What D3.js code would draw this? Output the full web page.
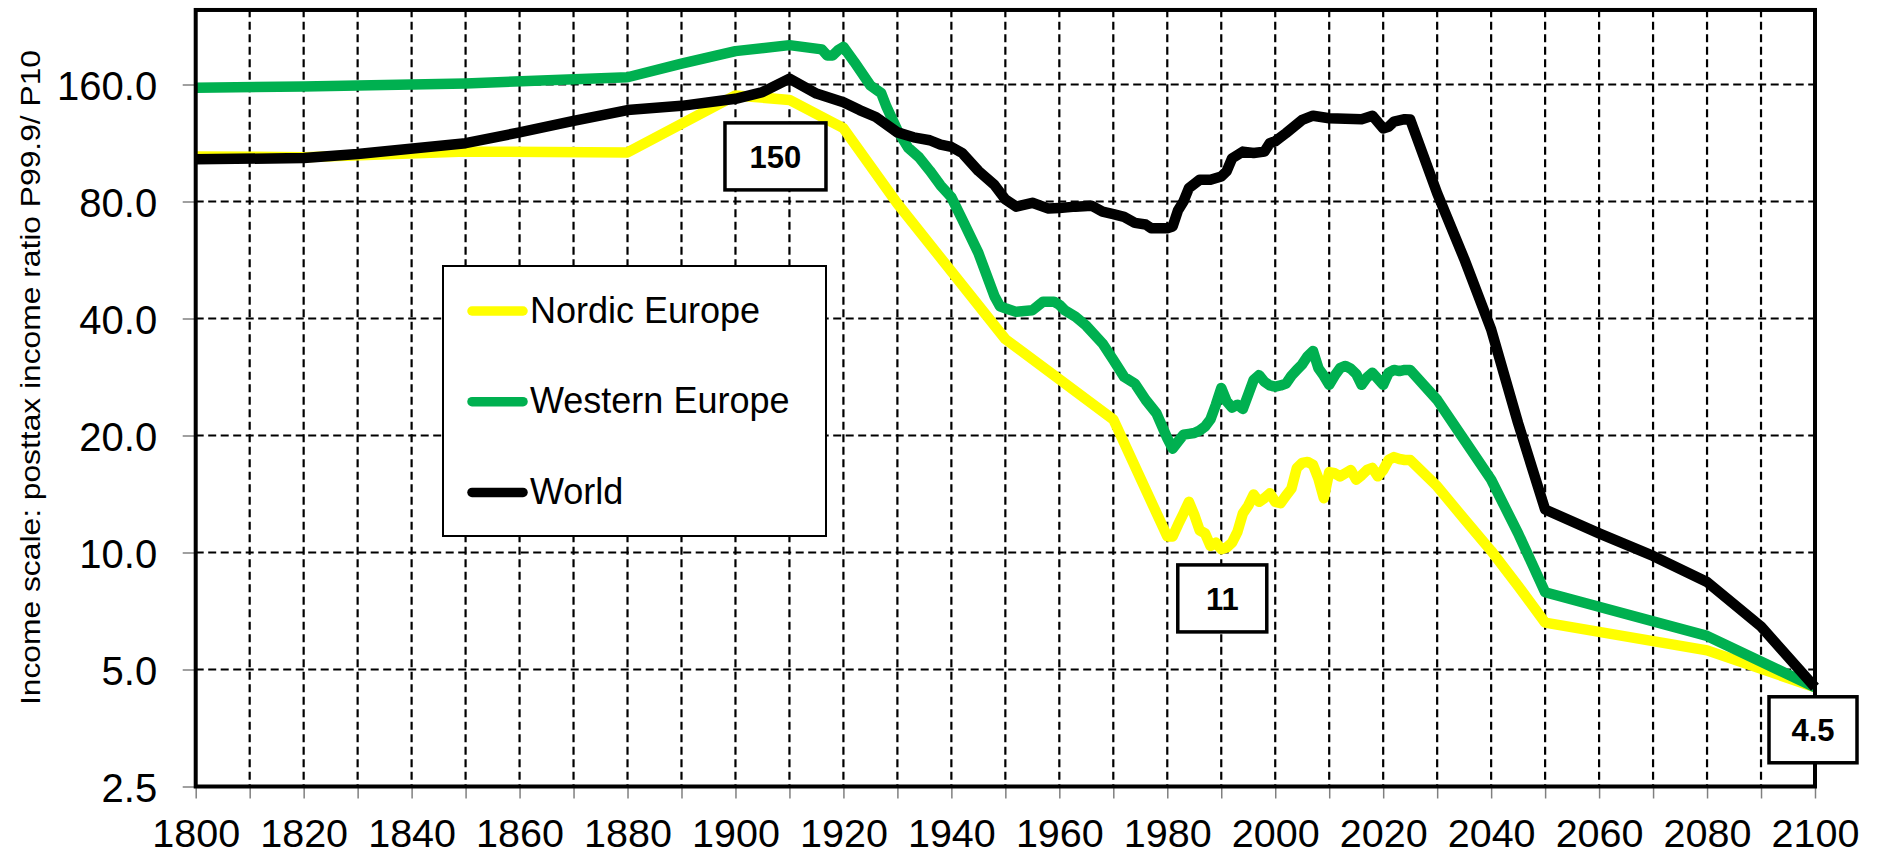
<!DOCTYPE html>
<html>
<head>
<meta charset="utf-8">
<script src="https://cdn.jsdelivr.net/npm/d3@7"></script>
<style>
  html, body { margin: 0; padding: 0; background: #fff; }
  svg { display: block; font-family: "Liberation Sans", Arial, sans-serif; }
</style>
</head>
<body>
<svg id="chart" width="1878" height="856"></svg>
<script>
// ---- data -------------------------------------------------------------
const yearTicks = d3.range(1800, 2101, 20);
const gridYears = d3.range(1800, 2101, 10);
const valueTicks = [2.5, 5, 10, 20, 40, 80, 160];

const seriesNames = ["Nordic Europe", "Western Europe", "World"];
const seriesColors = ["#FFFF00", "#00B050", "#000000"];

// P99.9/P10 ratio, Nordic Europe
const nordicYears = [1800, 1820, 1850, 1880, 1900, 1910, 1920, 1930, 1950, 1960, 1970, 1980,
  1981, 1982, 1983, 1984, 1985, 1986, 1987, 1988, 1989, 1990, 1991, 1992, 1993, 1994, 1995,
  1996, 1997, 1998, 1999, 2000, 2001, 2002, 2003, 2004, 2005, 2006, 2007, 2008, 2009, 2010,
  2011, 2012, 2013, 2014, 2015, 2016, 2017, 2018, 2019, 2020, 2021, 2022, 2023, 2024, 2025,
  2030, 2035, 2040, 2045, 2050, 2080, 2100];
const nordicValues = [104.5, 104, 107.5, 107, 150, 146, 123.5, 79, 35.4, 27.9, 22, 11,
  11, 11.8, 12.6, 13.5, 12.5, 11.4, 11.2, 10.4, 10.6, 10.2, 10.3, 10.6, 11.3, 12.6, 13.2,
  14.1, 13.5, 13.8, 14.2, 13.5, 13.4, 14.0, 14.6, 16.5, 17.0, 17.1, 16.8, 15.5, 13.8, 16.1,
  16.0, 15.7, 16.0, 16.3, 15.4, 15.8, 16.3, 16.5, 15.7, 16.3, 17.3, 17.6, 17.4, 17.3, 17.3,
  14.8, 12.2, 10.1, 8.2, 6.6, 5.6, 4.5];

// P99.9/P10 ratio, Western Europe
const westernYears = [1800, 1820, 1850, 1880, 1890, 1900, 1910, 1916, 1917, 1918, 1919, 1920,
  1922, 1925, 1927, 1928, 1930, 1932, 1934, 1936, 1938, 1940, 1942, 1945, 1948, 1949, 1950,
  1952, 1955, 1957, 1959, 1960, 1961, 1963, 1965, 1968, 1970, 1972, 1974, 1976, 1978, 1980,
  1981, 1982, 1983, 1984, 1985, 1986, 1987, 1988, 1989, 1990, 1991, 1992, 1993, 1994, 1995,
  1996, 1997, 1998, 1999, 2000, 2001, 2002, 2003, 2004, 2005, 2006, 2007, 2008, 2009, 2010,
  2011, 2012, 2013, 2014, 2015, 2016, 2017, 2018, 2019, 2020, 2021, 2022, 2023, 2024, 2025,
  2030, 2035, 2040, 2045, 2050, 2080, 2100];
const westernValues = [157, 158, 161, 167, 181, 195, 202, 197, 190, 190, 196, 200,
  183, 159, 152, 140, 122, 110, 104, 96, 88, 82, 72, 59, 45.6, 43, 42.5,
  41.6, 42, 44.2, 44.2, 43.4, 42, 40.4, 38.3, 34.5, 31.3, 28.3, 27.2, 24.7, 22.8, 19.7,
  18.5, 19.3, 20.1, 20.2, 20.3, 20.6, 21.1, 22, 24, 26.5, 24.5, 23.6, 24, 23.4, 25.5,
  27.8, 28.6, 27.5, 26.9, 26.7, 26.9, 27.2, 28.5, 29.5, 30.5, 32, 33, 29.8, 28.5, 27,
  28.5, 29.8, 30.2, 29.7, 28.8, 27, 28.2, 29, 28, 27, 29, 29.5, 29.3, 29.5, 29.5,
  24.7, 19.5, 15.4, 11.2, 7.9, 6.1, 4.5];

// P99.9/P10 ratio, World
const worldYears = [1800, 1820, 1830, 1850, 1860, 1870, 1880, 1890, 1900, 1905, 1910, 1915,
  1918, 1920, 1923, 1926, 1930, 1933, 1936, 1938, 1940, 1942, 1945, 1948, 1950, 1952, 1955,
  1958, 1960, 1963, 1966, 1968, 1970, 1972, 1974, 1976, 1977, 1980, 1981, 1982, 1983, 1984,
  1986, 1988, 1990, 1991, 1992, 1994, 1996, 1998, 1999, 2000, 2002, 2005, 2007, 2010, 2013,
  2016, 2018, 2020, 2021, 2022, 2024, 2025, 2030, 2035, 2040, 2045, 2050, 2060, 2070, 2080,
  2090, 2100];
const worldValues = [102.7, 103.5, 106, 113, 120.5, 129, 137.5, 141, 147, 153, 165.7, 151.6,
  147, 144, 137.5, 132, 120.5, 117, 115, 112, 110.5, 106.6, 95.9, 88.2, 81, 77.6, 79.4,
  76.7, 77, 77.6, 78, 75.3, 74.2, 73, 70.5, 69.8, 68.3, 68.3, 69, 76, 80, 86.6,
  91, 91, 92.8, 95.7, 103.3, 107.5, 106.6, 107.5, 113, 114.3, 120, 129.7, 133, 131, 130.6,
  130.3, 133, 123.3, 124.5, 128.4, 130.3, 130, 84, 57, 37.5, 21.5, 12.9, 11.2, 9.8, 8.4,
  6.45, 4.5];

const yTitle = "Income scale: posttax income ratio P99.9/ P10";

// ---- layout -----------------------------------------------------------
const svg = d3.select("#chart");
const plot = { left: 195.7, right: 1815, bottom: 786.5, octave: 117 };
const x = d3.scaleLinear().domain([1800, 2100]).range([plot.left, plot.right]);
const y = d3.scaleLog().base(2).domain([2.5, 250])
  .range([plot.bottom, plot.bottom - plot.octave * Math.log2(250 / 2.5)]);
const plotTop = y(250);

// dashed grid
const grid = svg.append("g");
grid.selectAll("line.vg").data(gridYears.filter(d => d > 1800 && d < 2100)).join("line")
  .attr("x1", d => x(d)).attr("x2", d => x(d))
  .attr("y1", plotTop).attr("y2", plot.bottom)
  .attr("stroke", "#000").attr("stroke-width", 2.2).attr("stroke-dasharray", "8,4.5");
grid.selectAll("line.hg").data(valueTicks.filter(d => d > 2.5)).join("line")
  .attr("x1", plot.left).attr("x2", plot.right)
  .attr("y1", d => y(d)).attr("y2", d => y(d))
  .attr("stroke", "#000").attr("stroke-width", 2.2).attr("stroke-dasharray", "8,4.5");

// axes (tick marks + labels)
const xAxis = d3.axisBottom(x).tickValues(gridYears).tickSize(12)
  .tickFormat(d => (yearTicks.includes(d) ? d3.format("d")(d) : ""));
const gx = svg.append("g").attr("transform", `translate(0,${plot.bottom})`).call(xAxis);
gx.select(".domain").remove();
gx.selectAll(".tick line").attr("stroke", "#808080").attr("stroke-width", 1.5);
gx.selectAll(".tick text").attr("font-size", 39.5).attr("fill", "#000")
  .attr("font-family", "'Liberation Sans', Arial, sans-serif")
  .attr("dy", null).attr("y", 60.5);

const yAxis = d3.axisLeft(y).tickValues(valueTicks).tickSize(13).tickFormat(d3.format(".1f"));
const gy = svg.append("g").attr("transform", `translate(${plot.left},0)`).call(yAxis);
gy.select(".domain").remove();
gy.selectAll(".tick line").attr("stroke", "#808080").attr("stroke-width", 1.5);
gy.selectAll(".tick text").attr("font-size", 40).attr("fill", "#000")
  .attr("font-family", "'Liberation Sans', Arial, sans-serif")
  .attr("x", -38.5).attr("dy", 14.5);

// y-axis title
svg.append("text")
  .attr("transform", `translate(40,377.5) rotate(-90)`)
  .attr("text-anchor", "middle")
  .attr("font-size", 28)
  .attr("textLength", 655).attr("lengthAdjust", "spacingAndGlyphs")
  .text(yTitle);

// series lines
const series = [
  { name: seriesNames[0], color: seriesColors[0], years: nordicYears, values: nordicValues },
  { name: seriesNames[1], color: seriesColors[1], years: westernYears, values: westernValues },
  { name: seriesNames[2], color: seriesColors[2], years: worldYears, values: worldValues }
];
const line = d3.line().x(d => x(d[0])).y(d => y(d[1]));
svg.append("g").selectAll("path").data(series).join("path")
  .attr("d", s => line(d3.zip(s.years, s.values)))
  .attr("fill", "none").attr("stroke", s => s.color)
  .attr("stroke-width", 10.5).attr("stroke-linejoin", "round");

// plot frame
svg.append("rect")
  .attr("x", plot.left).attr("y", plotTop + 0.8)
  .attr("width", plot.right - plot.left).attr("height", plot.bottom - plotTop - 0.8)
  .attr("fill", "none").attr("stroke", "#000").attr("stroke-width", 4);

// legend
const legend = svg.append("g").attr("transform", "translate(443,266)");
legend.append("rect").attr("width", 383).attr("height", 270)
  .attr("fill", "#fff").attr("stroke", "#000").attr("stroke-width", 2);
const items = legend.selectAll("g.item").data(series).join("g")
  .attr("transform", (d, i) => `translate(0,${45 + i * 90.7})`);
items.append("line").attr("x1", 29).attr("x2", 80)
  .attr("stroke", d => d.color).attr("stroke-width", 9.5).attr("stroke-linecap", "round");
items.append("text").attr("x", 87).attr("y", 11.5).attr("font-size", 36)
  .text(d => d.name);

// value call-outs
const callouts = [
  { s: 0, year: 1900, dx: 40, dy: 61, w: 101, h: 67 },
  { s: 0, year: 1980, dx: 55, dy: 62, w: 89, h: 67 },
  { s: 2, year: 2100, dx: -2, dy: 42.5, w: 88, h: 66 }
];
const cg = svg.append("g");
callouts.forEach(c => {
  const s = series[c.s];
  const v = s.values[s.years.indexOf(c.year)];
  const cx = x(c.year) + c.dx, cy = y(v) + c.dy;
  cg.append("rect").attr("x", cx - c.w / 2).attr("y", cy - c.h / 2)
    .attr("width", c.w).attr("height", c.h)
    .attr("fill", "#fff").attr("stroke", "#000").attr("stroke-width", 3.5);
  cg.append("text").attr("x", cx).attr("y", cy + 11.5)
    .attr("text-anchor", "middle").attr("font-size", 31).attr("font-weight", "bold")
    .text(String(v));
});
</script>
</body>
</html>
